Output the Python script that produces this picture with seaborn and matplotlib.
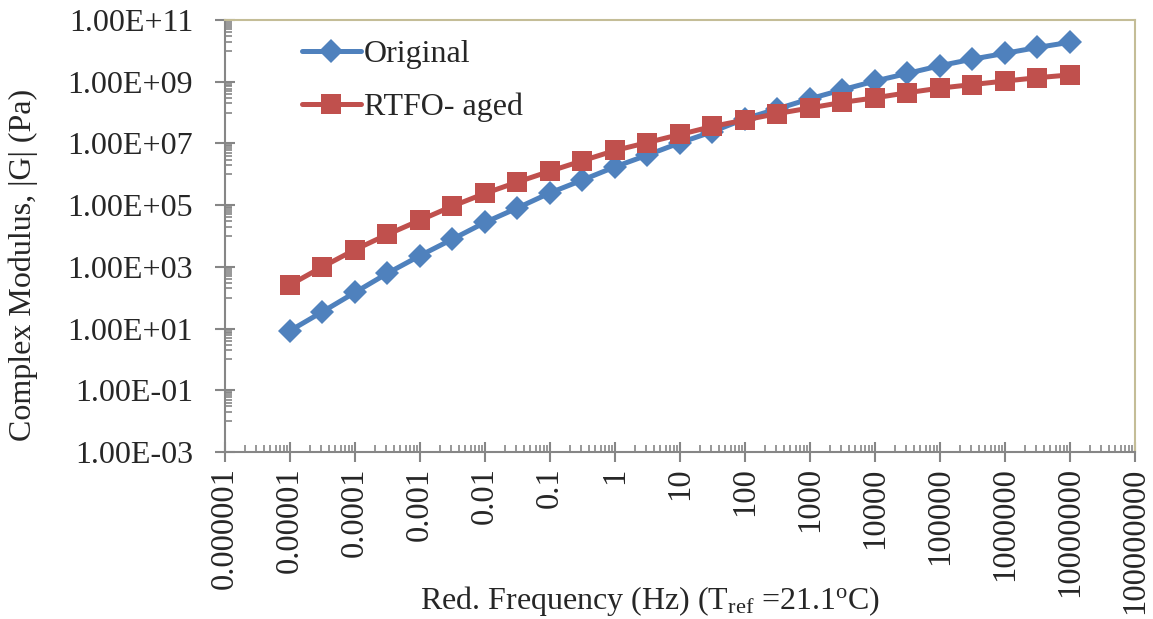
import numpy as np
import pandas as pd
import matplotlib
matplotlib.use("Agg")
import matplotlib.pyplot as plt
import matplotlib.ticker as mticker
import seaborn as sns

# reduced frequency (Hz), half-decade steps
freq = [1e-5, 3.16e-5, 1e-4, 3.16e-4, 1e-3, 3.16e-3, 1e-2, 3.16e-2, 0.1, 0.316,
        1, 3.16, 10, 31.6, 100, 316, 1000, 3160, 1e4, 3.16e4, 1e5, 3.16e5,
        1e6, 3.16e6, 1e7]

# complex modulus |G| (Pa)
original = [8.5, 35, 148, 620, 2300, 7900, 2.75e4, 8.1e4, 2.5e5, 6.5e5,
            1.74e6, 4.2e6, 1.05e7, 2.4e7, 6.3e7, 1.32e8, 2.8e8, 5.5e8,
            1.05e9, 1.86e9, 3.3e9, 5.4e9, 8.3e9, 1.29e10, 1.9e10]
rtfo_aged = [260, 1000, 3600, 1.12e4, 3.24e4, 9.3e4, 2.4e5, 5.6e5, 1.26e6,
             2.75e6, 5.9e6, 1.07e7, 1.95e7, 3.55e7, 5.75e7, 9.3e7, 1.41e8,
             2.14e8, 3.0e8, 4.4e8, 6.2e8, 8.1e8, 1.05e9, 1.35e9, 1.66e9]

x_ticks = [1e-6, 1e-5, 1e-4, 1e-3, 1e-2, 1e-1, 1, 10, 100, 1e3, 1e4, 1e5, 1e6, 1e7, 1e8]
x_labels = ["0.000001", "0.00001", "0.0001", "0.001", "0.01", "0.1", "1", "10",
            "100", "1000", "10000", "100000", "1000000", "10000000", "100000000"]
y_ticks = [1e-3, 1e-1, 1e1, 1e3, 1e5, 1e7, 1e9, 1e11]
y_labels = ["1.00E-03", "1.00E-01", "1.00E+01", "1.00E+03", "1.00E+05",
            "1.00E+07", "1.00E+09", "1.00E+11"]

df = pd.DataFrame({"freq": freq, "Original": original, "RTFO- aged": rtfo_aged})

sns.set_style("white")
plt.rcParams["font.family"] = ["Liberation Serif", "DejaVu Serif"]
plt.rcParams["mathtext.fontset"] = "custom"
plt.rcParams["mathtext.rm"] = "Liberation Serif"
plt.rcParams["mathtext.it"] = "Liberation Serif:italic"

fig = plt.figure(figsize=(11.53, 6.19), dpi=100)
ax = fig.add_axes([0.1951, 0.2698, 0.7893, 0.6979])

sns.lineplot(data=df, x="freq", y="Original", ax=ax, color="#4F81BD",
             marker="D", markersize=12, markeredgewidth=0, linewidth=3.6,
             label="Original")
sns.lineplot(data=df, x="freq", y="RTFO- aged", ax=ax, color="#C0504D",
             marker="s", markersize=14.5, markeredgewidth=0, linewidth=3.6,
             label="RTFO- aged")

ax.set_xscale("log")
ax.set_yscale("log")
ax.set_xlim(1e-6, 1e8)
ax.set_ylim(1e-3, 1e11)

ax.xaxis.set_major_locator(mticker.FixedLocator(x_ticks))
ax.xaxis.set_major_formatter(mticker.FixedFormatter(x_labels))
ax.xaxis.set_minor_locator(mticker.LogLocator(base=10, subs=np.arange(2, 10), numticks=50))
ax.xaxis.set_minor_formatter(mticker.NullFormatter())

# y axis steps by 100, minor ticks at 10..90 x each major
y_minor = [m * t for t in y_ticks[:-1] for m in range(10, 100, 10)]
ax.yaxis.set_major_locator(mticker.FixedLocator(y_ticks))
ax.yaxis.set_major_formatter(mticker.FixedFormatter(y_labels))
ax.yaxis.set_minor_locator(mticker.FixedLocator(y_minor))
ax.yaxis.set_minor_formatter(mticker.NullFormatter())

# seaborn "white" hides ticks, switch them back on
ax.tick_params(which="both", bottom=True, left=True, top=False, right=False)
ax.tick_params(axis="x", which="major", direction="inout", length=14, width=1.5,
               color="#868686", labelsize=23.5, labelrotation=90, pad=4)
ax.tick_params(axis="y", which="major", direction="inout", length=14, width=1.5,
               color="#868686", labelsize=23, pad=16)
ax.tick_params(which="minor", direction="in", length=5, width=1.2, color="#868686")

for side in ["left", "bottom"]:
    ax.spines[side].set_color("#868686")
    ax.spines[side].set_linewidth(1.5)
for side in ["top", "right"]:
    ax.spines[side].set_color("#C4BD97")
    ax.spines[side].set_linewidth(1.5)

ax.set_xlabel(r"Red. Frequency (Hz) (T$_{\mathrm{ref}}$ =21.1$^{\mathrm{o}}$C)",
              fontsize=23)
ax.xaxis.set_label_coords(0.467, -0.305)
ax.set_ylabel("Complex Modulus, |G| (Pa)", fontsize=23)
ax.yaxis.set_label_coords(-0.205, 0.433)

ax.legend(loc="upper left", bbox_to_anchor=(0.0846, 0.955), frameon=False,
          fontsize=23, borderpad=0, borderaxespad=0, handlelength=1.85,
          handletextpad=0.1, labelspacing=0.75)

fig.savefig("out.png", dpi=100)
